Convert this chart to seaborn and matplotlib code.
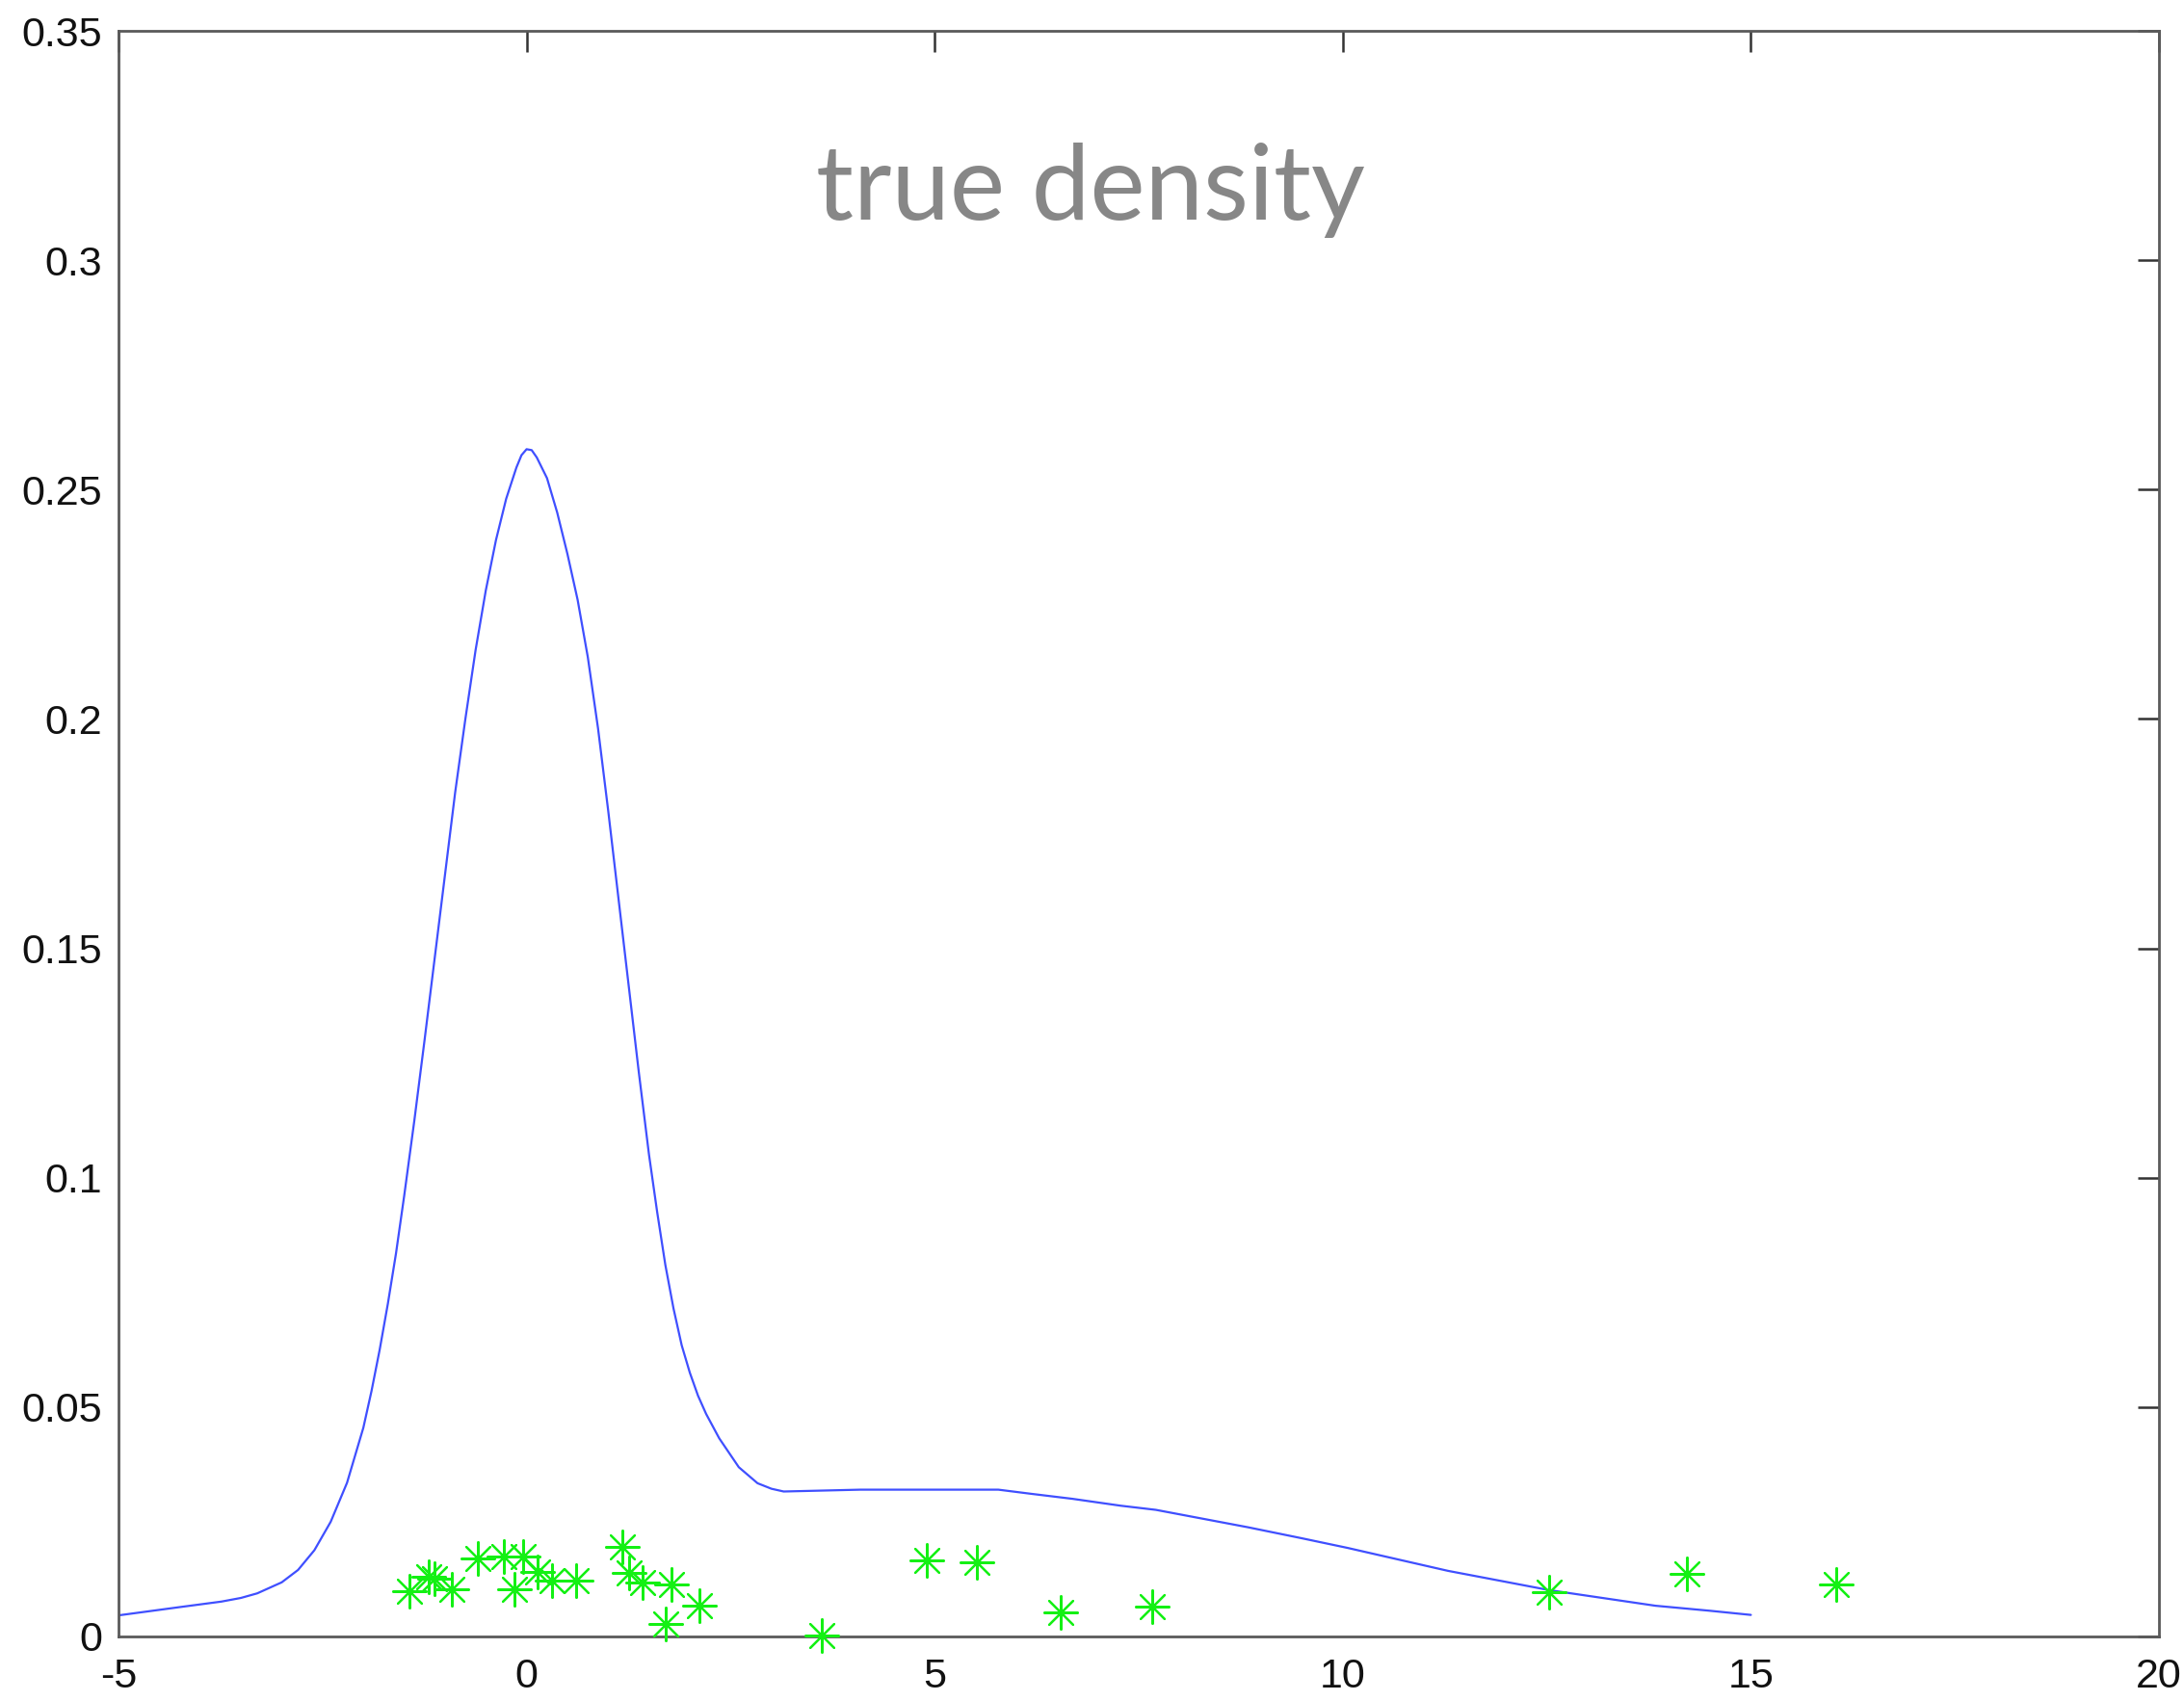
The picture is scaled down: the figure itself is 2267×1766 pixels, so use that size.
import matplotlib
matplotlib.use("Agg")
import matplotlib.pyplot as plt
import numpy as np
import pandas as pd
import seaborn as sns

# density curve, sampled along x
curve_x = [-5.0, -4.25, -3.74, -3.5, -3.3, -3.0, -2.8, -2.6, -2.4, -2.2,
           -2.0, -1.9, -1.8, -1.7, -1.6, -1.5, -1.375, -1.25, -1.125, -1.0,
           -0.875, -0.75, -0.625, -0.5, -0.375, -0.25, -0.125, -0.0625, 0.0, 0.0625,
           0.125, 0.25, 0.375, 0.5, 0.625, 0.75, 0.875, 1.0, 1.125, 1.25,
           1.375, 1.5, 1.6, 1.7, 1.8, 1.9, 2.0, 2.1, 2.2, 2.36,
           2.6, 2.83, 3.0, 3.15, 4.09, 5.78, 6.18, 6.69, 7.28, 7.71,
           8.84, 9.5, 10.06, 11.29, 12.0, 12.53, 13.83, 14.5, 15.0]
curve_y = [0.0046, 0.0064, 0.0076, 0.0084, 0.0094, 0.0118, 0.0145, 0.0188, 0.0250, 0.0335,
           0.0455, 0.0535, 0.0625, 0.0725, 0.0835, 0.0960, 0.1125, 0.1300, 0.1480, 0.1660,
           0.1840, 0.2000, 0.2150, 0.2280, 0.2390, 0.2480, 0.2548, 0.2575, 0.2588, 0.2586,
           0.2570, 0.2525, 0.2450, 0.2360, 0.2260, 0.2135, 0.1980, 0.1800, 0.1610, 0.1420,
           0.1230, 0.1050, 0.0925, 0.0810, 0.0715, 0.0635, 0.0575, 0.0525, 0.0485, 0.0432,
           0.0369, 0.0334, 0.0322, 0.0316, 0.0320, 0.0320, 0.0311, 0.0300, 0.0285, 0.0276,
           0.0238, 0.0214, 0.0193, 0.0143, 0.0119, 0.0101, 0.0067, 0.0056, 0.0047]

# sample points
sample_x = [-1.44, -1.20, -1.13, -0.92, -0.60, -0.275, -0.04, -0.15, 0.13, 0.31,
            0.61, 1.17, 1.25, 1.42, 1.77, 1.71, 2.12, 3.62, 4.90, 5.52,
            6.54, 7.67, 12.53, 14.22, 16.05]
sample_y = [0.0099, 0.0130, 0.0125, 0.0103, 0.0171, 0.0175, 0.0175, 0.0103, 0.0141, 0.0122,
            0.0122, 0.0195, 0.0138, 0.0118, 0.0113, 0.0028, 0.0067, 0.0003, 0.0166, 0.0161,
            0.0052, 0.0066, 0.0096, 0.0136, 0.0113]

x_ticks = [-5, 0, 5, 10, 15, 20]
x_tick_labels = ["-5", "0", "5", "10", "15", "20"]
y_ticks = [0, 0.05, 0.1, 0.15, 0.2, 0.25, 0.3, 0.35]
y_tick_labels = ["0", "0.05", "0.1", "0.15", "0.2", "0.25", "0.3", "0.35"]

title_text = "true density"

sns.set_theme(style="white")
plt.rcParams["font.family"] = ["Liberation Sans", "DejaVu Sans"]

W, H = 2267, 1766
fig = plt.figure(figsize=(W / 100, H / 100), dpi=100)
ax = fig.add_axes([123 / W, 1 - 1699 / H, 2118 / W, 1667 / H])

curve = pd.DataFrame({"x": curve_x, "density": curve_y})
samples = pd.DataFrame({"x": sample_x, "y": sample_y})

sns.lineplot(data=curve, x="x", y="density", ax=ax, color="#3f4fff",
             linewidth=1.6, estimator=None, sort=True)
sns.scatterplot(data=samples, x="x", y="y", ax=ax, marker=(8, 2, 0),
                s=25 ** 2, color="#14f014", linewidth=1.6, clip_on=False,
                zorder=3)

ax.set_xlim(-5, 20)
ax.set_ylim(0, 0.35)
ax.set_xticks(x_ticks)
ax.set_xticklabels(x_tick_labels)
ax.set_yticks(y_ticks)
ax.set_yticklabels(y_tick_labels)
ax.set_xlabel("")
ax.set_ylabel("")

for sp in ax.spines.values():
    sp.set_visible(True)
    sp.set_color("#5a5a5a")
    sp.set_linewidth(2.0)

ax.tick_params(axis="both", which="both", direction="in", length=16, width=1.8,
               color="#333333", labelsize=31, labelcolor="#111111",
               top=True, right=True)
ax.tick_params(axis="x", pad=16)
ax.tick_params(axis="y", pad=12)

ax.text(0.4764, 0.8824, title_text, transform=ax.transAxes, ha="center",
        va="baseline", fontsize=78, color="#878787", family=["Lato", "DejaVu Sans"])

fig.savefig("out.png", dpi=100, facecolor="white")
